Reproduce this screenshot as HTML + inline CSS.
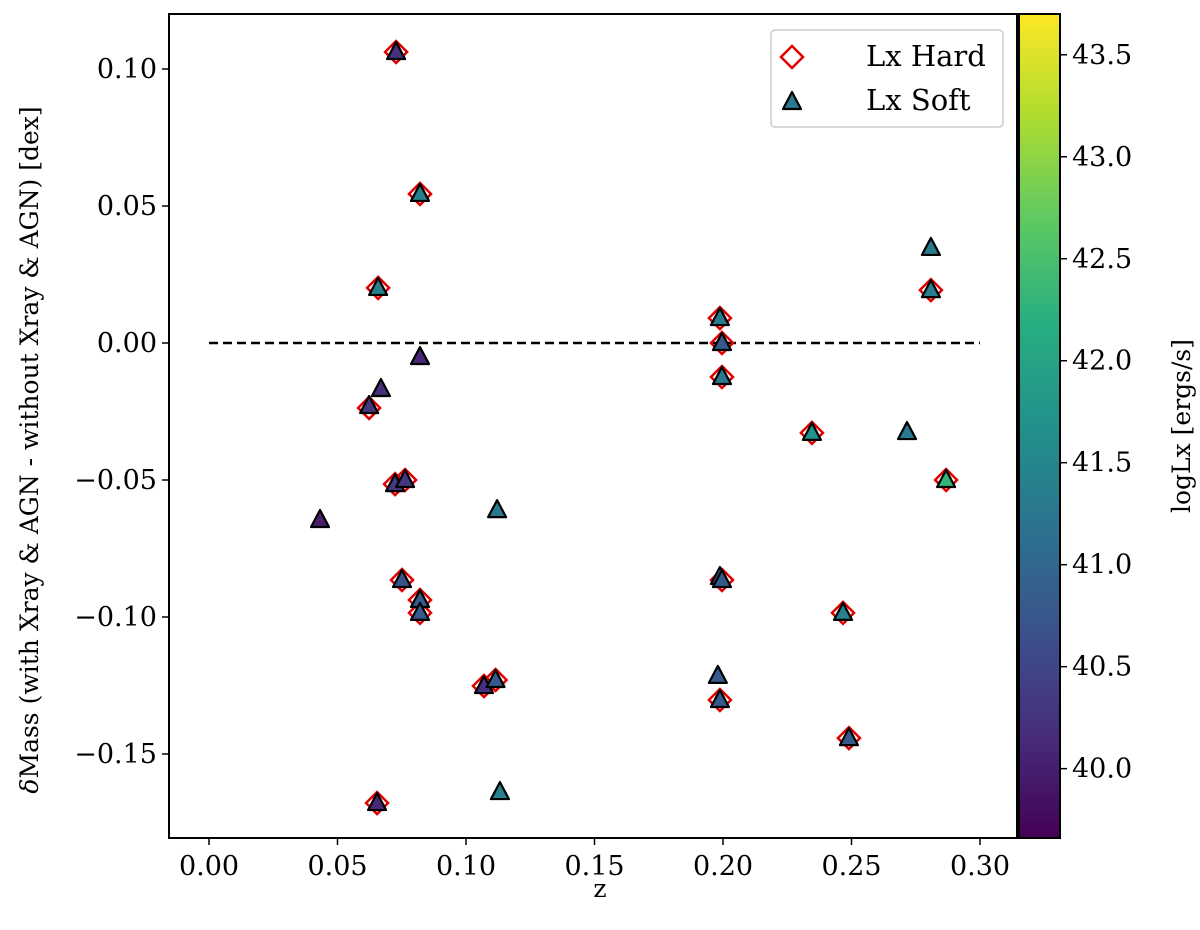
<!DOCTYPE html>
<html><head><meta charset="utf-8">
<style>
body{margin:0;background:#fff;}
svg text{font-family:"DejaVu Serif","Liberation Serif",serif;fill:#000;}
</style></head><body>
<svg id="chart" width="1200" height="925" viewBox="0 0 1200 925" xmlns="http://www.w3.org/2000/svg">
<defs>
<linearGradient id="vir" x1="0" y1="1" x2="0" y2="0">
<stop offset="0" stop-color="#440154"/><stop offset="0.125" stop-color="#472d7b"/><stop offset="0.25" stop-color="#3b528b"/><stop offset="0.375" stop-color="#2c728e"/><stop offset="0.5" stop-color="#21918c"/><stop offset="0.625" stop-color="#28ae80"/><stop offset="0.75" stop-color="#5ec962"/><stop offset="0.875" stop-color="#addc30"/><stop offset="1" stop-color="#fde725"/>
</linearGradient>
</defs>
<g id="plot"></g>
</svg>
<script>
const hardZ=[0.0728,0.0821,0.0658,0.0623,0.0724,0.0763,0.0751,0.0821,0.0821,0.1070,0.1115,0.0654,0.1988,0.1996,0.1996,0.1988,0.1996,0.2346,0.2467,0.2490,0.2809,0.2868];
const hardD=[0.1062,0.0544,0.0201,-0.0237,-0.0515,-0.0500,-0.0865,-0.0938,-0.0985,-0.1252,-0.1230,-0.1679,0.0091,0.0000,-0.0124,-0.1303,-0.0865,-0.0328,-0.0985,-0.1442,0.0193,-0.0500];
const softZ=[0.0728,0.0821,0.0658,0.0623,0.0669,0.0821,0.0724,0.0763,0.0432,0.0751,0.0821,0.0821,0.1070,0.1115,0.0654,0.1121,0.1132,0.1988,0.1996,0.1996,0.1988,0.1996,0.1980,0.1988,0.2346,0.2467,0.2490,0.2716,0.2809,0.2809,0.2868];
const softD=[0.1062,0.0544,0.0201,-0.0230,-0.0168,-0.0051,-0.0515,-0.0500,-0.0646,-0.0865,-0.0938,-0.0985,-0.1252,-0.1230,-0.1679,-0.0610,-0.1639,0.0091,0.0000,-0.0124,-0.0854,-0.0865,-0.1215,-0.1303,-0.0328,-0.0985,-0.1442,-0.0325,0.0347,0.0193,-0.0500];
const softL=[40.2,41.4,41.4,40.3,40.2,40.1,40.3,40.3,40.0,40.7,40.8,40.8,40.2,40.8,40.1,41.3,41.4,41.3,40.8,41.3,40.8,40.8,40.8,40.8,41.7,41.4,40.8,41.3,41.3,41.4,42.3];
const xTicks=[0,0.05,0.10,0.15,0.20,0.25,0.30];
const yTicks=[0.10,0.05,0.00,-0.05,-0.10,-0.15];
const cTicks=[40.0,40.5,41.0,41.5,42.0,42.5,43.0,43.5];
const L=169,R=1017,T=14,B=838,CL=1019,CR=1060,CMIN=39.66,CMAX=43.70;
const xs=z=>209+z*2570;
const ys=v=>343-v*2740;
const cs=c=>B-(c-CMIN)/(CMAX-CMIN)*(B-T);
const vir=["#440154","#472d7b","#3b528b","#2c728e","#21918c","#28ae80","#5ec962","#addc30","#fde725"];
function col(c){let t=(c-CMIN)/(CMAX-CMIN);t=Math.max(0,Math.min(1,t))*8;const i=Math.min(7,Math.floor(t)),f=t-i;
const a=vir[i],b=vir[i+1];const p=(h,k)=>parseInt(h.substr(k,2),16);let s="rgb(";
for(let k=1;k<7;k+=2){s+=Math.round(p(a,k)+(p(b,k)-p(a,k))*f)+(k<5?",":")");}return s;}
const g=document.getElementById('plot');const NS="http://www.w3.org/2000/svg";
function mk(tag,at,parent){const e=document.createElementNS(NS,tag);for(const k in at)e.setAttribute(k,at[k]);(parent||g).appendChild(e);return e;}
let e;
e=mk('line',{x1:209,y1:ys(0),x2:xs(0.30),y2:ys(0),stroke:'#000','stroke-width':2.5,'stroke-dasharray':'9,5'});


hardZ.forEach((z,i)=>{const x=xs(z),y=ys(hardD[i]);
e=mk('polygon',{points:`${x},${y-11} ${x+11},${y} ${x},${y+11} ${x-11},${y}`,fill:'none',stroke:'#e00000','stroke-width':2.5});

});
softZ.forEach((z,i)=>{const x=xs(z),y=ys(softD[i]);
e=mk('polygon',{points:`${x},${y-10} ${x+9},${y+7} ${x-9},${y+7}`,fill:col(softL[i]),stroke:'#000','stroke-width':2.2,'stroke-linejoin':'round'});

});
e=mk('rect',{x:L,y:T,width:R-L,height:B-T,fill:'none',stroke:'#000','stroke-width':2});


xTicks.forEach(t=>{const x=xs(t);mk('line',{x1:x,y1:B,x2:x,y2:B+7,stroke:'#000','stroke-width':1.5});
e=mk('text',{x:x,y:B+37,'text-anchor':'middle','font-size':27});e.textContent=t.toFixed(2);

});
yTicks.forEach(t=>{const y=ys(t);mk('line',{x1:L-7,y1:y,x2:L,y2:y,stroke:'#000','stroke-width':1.5});
e=mk('text',{x:L-12,y:y+9,'text-anchor':'end','font-size':27});e.textContent=(t<0?'\u2212':'')+Math.abs(t).toFixed(2);

});
e=mk('rect',{x:CL,y:T,width:CR-CL,height:B-T,fill:'url(#vir)',stroke:'#000','stroke-width':2});


cTicks.forEach(t=>{const y=cs(t);mk('line',{x1:CR,y1:y,x2:CR+7,y2:y,stroke:'#000','stroke-width':1.5});
e=mk('text',{x:CR+12,y:y+9,'font-size':27});e.textContent=t.toFixed(1);

});
e=mk('text',{x:600,y:897,'text-anchor':'middle','font-size':25});e.textContent='z';


e=mk('text',{x:0,y:0,'text-anchor':'middle','font-size':25,transform:'translate(38,450) rotate(-90)'});
e.innerHTML='<tspan font-style="italic">\u03b4</tspan>Mass (with Xray &amp; AGN - without Xray &amp; AGN) [dex]';


e=mk('text',{x:0,y:0,'text-anchor':'middle','font-size':25,transform:'translate(1190,426) rotate(-90)'});e.textContent='logLx [ergs/s]';


const lg=mk('g',{});


mk('rect',{x:771,y:30,width:232,height:97,rx:4,fill:'#fff','fill-opacity':0.85,stroke:'#ccc','stroke-width':1.5},lg);
mk('polygon',{points:'792,46 803,57 792,68 781,57',fill:'none',stroke:'#e00000','stroke-width':2.5},lg);
mk('polygon',{points:'792,92 801,109 783,109',fill:col(41.3),stroke:'#000','stroke-width':2.2,'stroke-linejoin':'round'},lg);
e=mk('text',{x:866,y:66,'font-size':29},lg);e.textContent='Lx Hard';


e=mk('text',{x:866,y:110,'font-size':29},lg);e.textContent='Lx Soft';


</script>
</body></html>
